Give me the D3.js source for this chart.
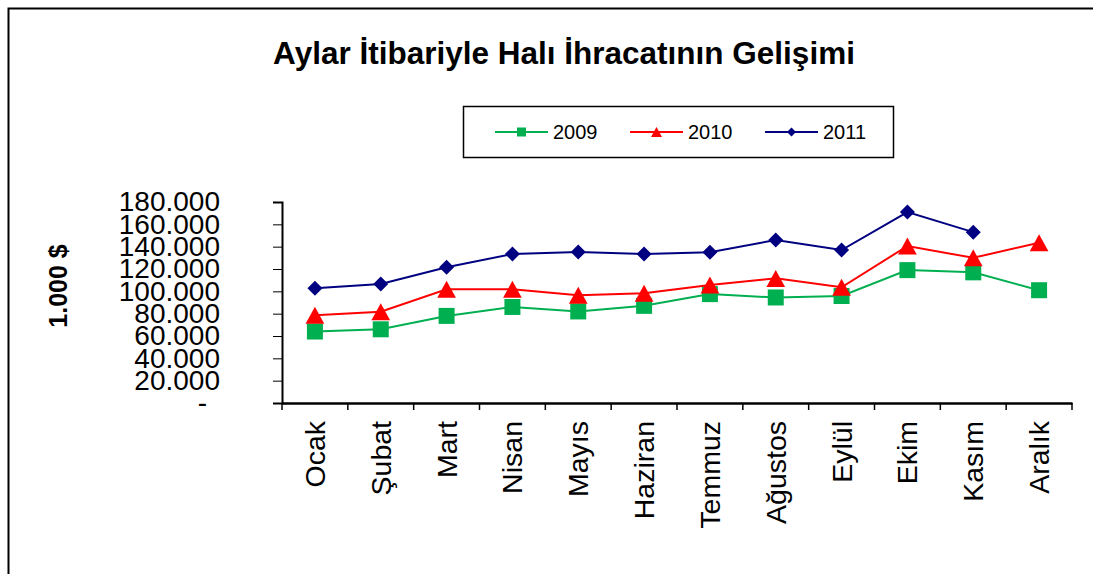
<!DOCTYPE html>
<html>
<head>
<meta charset="utf-8">
<script src="https://cdn.jsdelivr.net/npm/d3@7"></script>
<style>
  body { margin: 0; background: #fff; }
  svg { display: block; font-family: "Liberation Sans", Arial, sans-serif; }
</style>
</head>
<body>
<div id="chart"></div>
<script>
// chart data
var months = ["Ocak", "Şubat", "Mart", "Nisan", "Mayıs", "Haziran", "Temmuz", "Ağustos", "Eylül", "Ekim", "Kasım", "Aralık"];
var v2009 = [64000, 66000, 78000, 86000, 82000, 87000, 97500, 94500, 95800, 119000, 117000, 101000];
var v2010 = [78500, 81700, 101800, 101800, 96400, 98200, 105600, 111600, 103600, 140600, 130000, 143500];
var v2011 = [102700, 106500, 121500, 133400, 135200, 133400, 135000, 146000, 137000, 171000, 153000, null];
var yTicks = [0, 20000, 40000, 60000, 80000, 100000, 120000, 140000, 160000, 180000];
var seriesNames = ["2009", "2010", "2011"];

var W = 1093, H = 574;
var svg = d3.select("#chart").append("svg").attr("width", W).attr("height", H);

// outer frame (runs off the right and bottom edges)
svg.append("rect")
  .attr("x", 8.5).attr("y", 8.5)
  .attr("width", 1200).attr("height", 700)
  .attr("fill", "none").attr("stroke", "#000").attr("stroke-width", 2);

// title
svg.append("text")
  .attr("x", 564).attr("y", 64)
  .attr("text-anchor", "middle")
  .attr("font-size", 31.5).attr("font-weight", "bold")
  .text("Aylar İtibariyle Halı İhracatının Gelişimi");

var x = d3.scaleBand().domain(months).range([282, 1072]);
var y = d3.scaleLinear().domain([0, 180000]).range([403, 202]);
function cx(m) { return x(m) + x.bandwidth() / 2; }

// y axis
var yAxis = svg.append("g").attr("transform", "translate(282,0)")
  .call(d3.axisLeft(y).tickValues(yTicks).tickSize(9).tickPadding(53)
    .tickFormat(function(d){ return d === 0 ? "-" : d3.format(",")(d).replace(/,/g, "."); }));
yAxis.select(".domain").attr("stroke-width", 2);
yAxis.selectAll("text").attr("font-size", 28).attr("fill", "#000")
  .attr("font-family", "Liberation Sans, Arial, sans-serif");
yAxis.selectAll(".tick").filter(function(d){ return d === 0; }).select("text").attr("dx", -13);

// x axis
var xAxis = svg.append("g").attr("transform", "translate(0,403)")
  .call(d3.axisBottom(x).tickSize(0).tickSizeOuter(0).tickFormat(""));
xAxis.select(".domain").attr("stroke-width", 2.5);
xAxis.selectAll(".tick").remove();
var bounds = months.map(function(m){ return x(m); }).concat([x.range()[1]]);
svg.selectAll(".xtick").data(bounds).enter().append("line")
  .attr("x1", function(d){ return d; }).attr("x2", function(d){ return d; })
  .attr("y1", 403).attr("y2", 410)
  .attr("stroke", "#000").attr("stroke-width", 1.5);
svg.selectAll(".xlab").data(months).enter().append("text")
  .attr("transform", function(d){ return "translate(" + (cx(d) + 10) + ",421) rotate(-90)"; })
  .attr("text-anchor", "end")
  .attr("font-size", 28.5)
  .text(function(d){ return d; });

// y title
svg.append("text")
  .attr("transform", "translate(67,286) rotate(-90)")
  .attr("text-anchor", "middle")
  .attr("font-size", 25).attr("font-weight", "bold")
  .text("1.000 $");

// marker shapes
function marker(kind, s) {
  if (kind === "square") return "M" + (-s) + "," + (-s) + "H" + s + "V" + s + "H" + (-s) + "Z";
  if (kind === "triangle") return "M0," + (-s) + "L" + (s * 1.1) + "," + s + "L" + (-s * 1.1) + "," + s + "Z";
  return "M0," + (-s) + "L" + s + ",0L0," + s + "L" + (-s) + ",0Z";
}

var series = [
  { name: seriesNames[0], values: v2009, color: "#00B050", shape: "square", size: 8 },
  { name: seriesNames[1], values: v2010, color: "#FF0000", shape: "triangle", size: 8.5 },
  { name: seriesNames[2], values: v2011, color: "#000080", shape: "diamond", size: 7.5 }
];

var line = d3.line()
  .defined(function(d){ return d[1] !== null; })
  .x(function(d){ return cx(d[0]); })
  .y(function(d){ return y(d[1]); });

series.forEach(function(s){
  var pts = months.map(function(m, i){ return [m, s.values[i]]; });
  svg.append("path").datum(pts)
    .attr("d", line).attr("fill", "none")
    .attr("stroke", s.color).attr("stroke-width", 2);
  svg.selectAll(null).data(pts.filter(function(d){ return d[1] !== null; })).enter()
    .append("path")
    .attr("d", marker(s.shape, s.size))
    .attr("transform", function(d){ return "translate(" + cx(d[0]) + "," + y(d[1]) + ")"; })
    .attr("fill", s.color);
});

// legend
var lg = svg.append("g");
lg.append("rect").attr("x", 463.5).attr("y", 106.5).attr("width", 430).attr("height", 51)
  .attr("fill", "#fff").attr("stroke", "#000").attr("stroke-width", 1.5);
var legX = [495, 630, 765];
series.forEach(function(s, i){
  var g = lg.append("g").attr("transform", "translate(" + legX[i] + ",132)");
  g.append("line").attr("x1", 0).attr("x2", 53).attr("stroke", s.color).attr("stroke-width", 2);
  g.append("path").attr("d", marker(s.shape, s.shape === "triangle" ? 5 : 4.5))
    .attr("transform", "translate(26.5,0)").attr("fill", s.color);
  g.append("text").attr("x", 58).attr("y", 7).attr("font-size", 20).text(s.name);
});
</script>
</body>
</html>
